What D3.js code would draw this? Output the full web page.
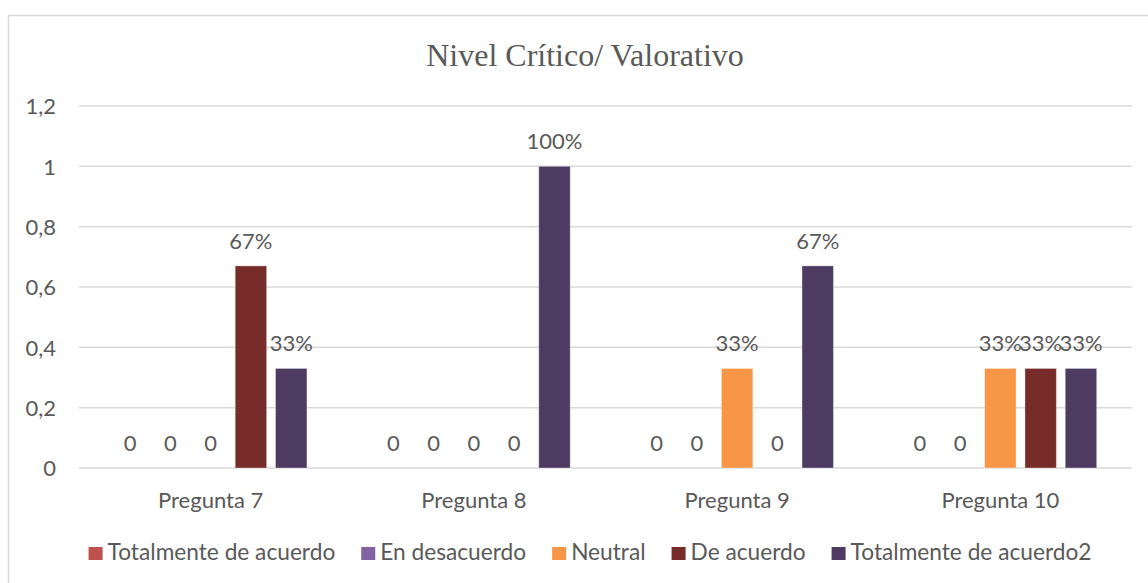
<!DOCTYPE html>
<html lang="es">
<head>
  <meta charset="UTF-8" />
  <title>Nivel Crítico/ Valorativo</title>
  <script src="https://d3js.org/d3.v7.min.js"></script>
  <style>
    body {
      margin: 0;
      background: #fff;
    }
    svg {
      display: block;
    }
    .grid line {
      stroke: #d9d9d9;
      stroke-width: 1.5px;
    }
    .tick text, .cat, .label, .legend text {
      font-family: Lato, 'Open Sans', sans-serif;
      font-size: 22px;
      fill: #595959;
    }
    .legend text {
      font-size: 22.7px;
    }
    .title {
      font-family: 'Liberation Serif', 'DejaVu Serif', serif;
      font-size: 32px;
      fill: #595959;
    }
  </style>
</head>
<body>
  <svg width="1148" height="583"></svg>

  <script>
    // data
    const categories = ["Pregunta 7", "Pregunta 8", "Pregunta 9", "Pregunta 10"];
    const seriesNames = ["Totalmente de acuerdo", "En desacuerdo", "Neutral", "De acuerdo", "Totalmente de acuerdo2"];
    const seriesColors = ["#c0504d", "#8064a2", "#f79646", "#772c2a", "#4d3b62"];
    const totalmenteDeAcuerdo = [0, 0, 0, 0];
    const enDesacuerdo = [0, 0, 0, 0];
    const neutral = [0, 0, 0.33, 0.33];
    const deAcuerdo = [0.67, 0, 0, 0.33];
    const totalmenteDeAcuerdo2 = [0.33, 1, 0.67, 0.33];
    const yTicks = [0, 0.2, 0.4, 0.6, 0.8, 1, 1.2];

    const seriesValues = [totalmenteDeAcuerdo, enDesacuerdo, neutral, deAcuerdo, totalmenteDeAcuerdo2];

    const svg = d3.select("svg");

    // chart frame (runs off the right/bottom edge like the screenshot)
    svg.append("rect")
      .attr("x", 8.5).attr("y", 15.5)
      .attr("width", 1160).attr("height", 600)
      .attr("fill", "#fff")
      .attr("stroke", "#d9d9d9")
      .attr("stroke-width", 1.5);

    const plot = { left: 79, right: 1132, top: 106, bottom: 468 };

    const y = d3.scaleLinear().domain([0, 1.2]).range([plot.bottom, plot.top]);
    const x0 = d3.scaleBand().domain(categories).range([plot.left, plot.right]).padding(0);
    const x1 = d3.scaleBand().domain(seriesNames).range([0, x0.bandwidth()])
      .paddingInner(0.22).paddingOuter(0.876);

    svg.append("text")
      .attr("class", "title")
      .attr("x", 585).attr("y", 66)
      .attr("text-anchor", "middle")
      .text("Nivel Crítico/ Valorativo");

    // gridlines
    svg.append("g")
      .attr("class", "grid")
      .selectAll("line")
      .data(yTicks)
      .join("line")
      .attr("x1", plot.left).attr("x2", plot.right)
      .attr("y1", d => y(d)).attr("y2", d => y(d));

    // y axis labels
    const fmt = d => String(d).replace(".", ",");
    const yAxis = d3.axisLeft(y).tickValues(yTicks).tickFormat(fmt).tickSize(0).tickPadding(23);
    const yg = svg.append("g").attr("transform", `translate(${plot.left},0)`).call(yAxis);
    yg.select(".domain").remove();
    yg.selectAll("text").attr("dy", "0.35em");

    // bars
    const rows = [];
    categories.forEach((c, ci) => {
      seriesNames.forEach((s, si) => {
        rows.push({ cat: c, series: s, color: seriesColors[si], value: seriesValues[si][ci] });
      });
    });

    const bars = svg.append("g");
    bars.selectAll("rect")
      .data(rows.filter(d => d.value > 0))
      .join("rect")
      .attr("x", d => x0(d.cat) + x1(d.series))
      .attr("width", x1.bandwidth())
      .attr("y", d => y(d.value))
      .attr("height", d => y(0) - y(d.value))
      .attr("fill", d => d.color)
      .attr("stroke", "rgba(255,255,255,0.35)")
      .attr("stroke-width", 1);

    // data labels
    svg.append("g")
      .selectAll("text")
      .data(rows)
      .join("text")
      .attr("class", "label")
      .attr("x", d => x0(d.cat) + x1(d.series) + x1.bandwidth() / 2)
      .attr("y", d => y(d.value) - 17)
      .attr("text-anchor", "middle")
      .text(d => d.value === 0 ? "0" : Math.round(d.value * 100) + "%");

    // category labels
    svg.append("g")
      .selectAll("text")
      .data(categories)
      .join("text")
      .attr("class", "cat")
      .attr("x", d => x0(d) + x0.bandwidth() / 2)
      .attr("y", 508)
      .attr("text-anchor", "middle")
      .text(d => d);

    // legend
    const legend = svg.append("g").attr("class", "legend");
    const items = legend.selectAll("g")
      .data(seriesNames)
      .join("g");
    items.append("rect")
      .attr("width", 14).attr("height", 13)
      .attr("y", 547)
      .attr("fill", (d, i) => seriesColors[i]);
    items.append("text")
      .attr("x", 19).attr("y", 560)
      .text(d => d);

    const gap = 26;
    let cx = 0;
    const offsets = [];
    items.each(function () {
      const w = 19 + d3.select(this).select("text").node().getComputedTextLength();
      offsets.push(cx);
      cx += w + gap;
    });
    const total = cx - gap;
    const startX = 590 - total / 2;
    items.attr("transform", (d, i) => `translate(${startX + offsets[i]},0)`);
  </script>
</body>
</html>
